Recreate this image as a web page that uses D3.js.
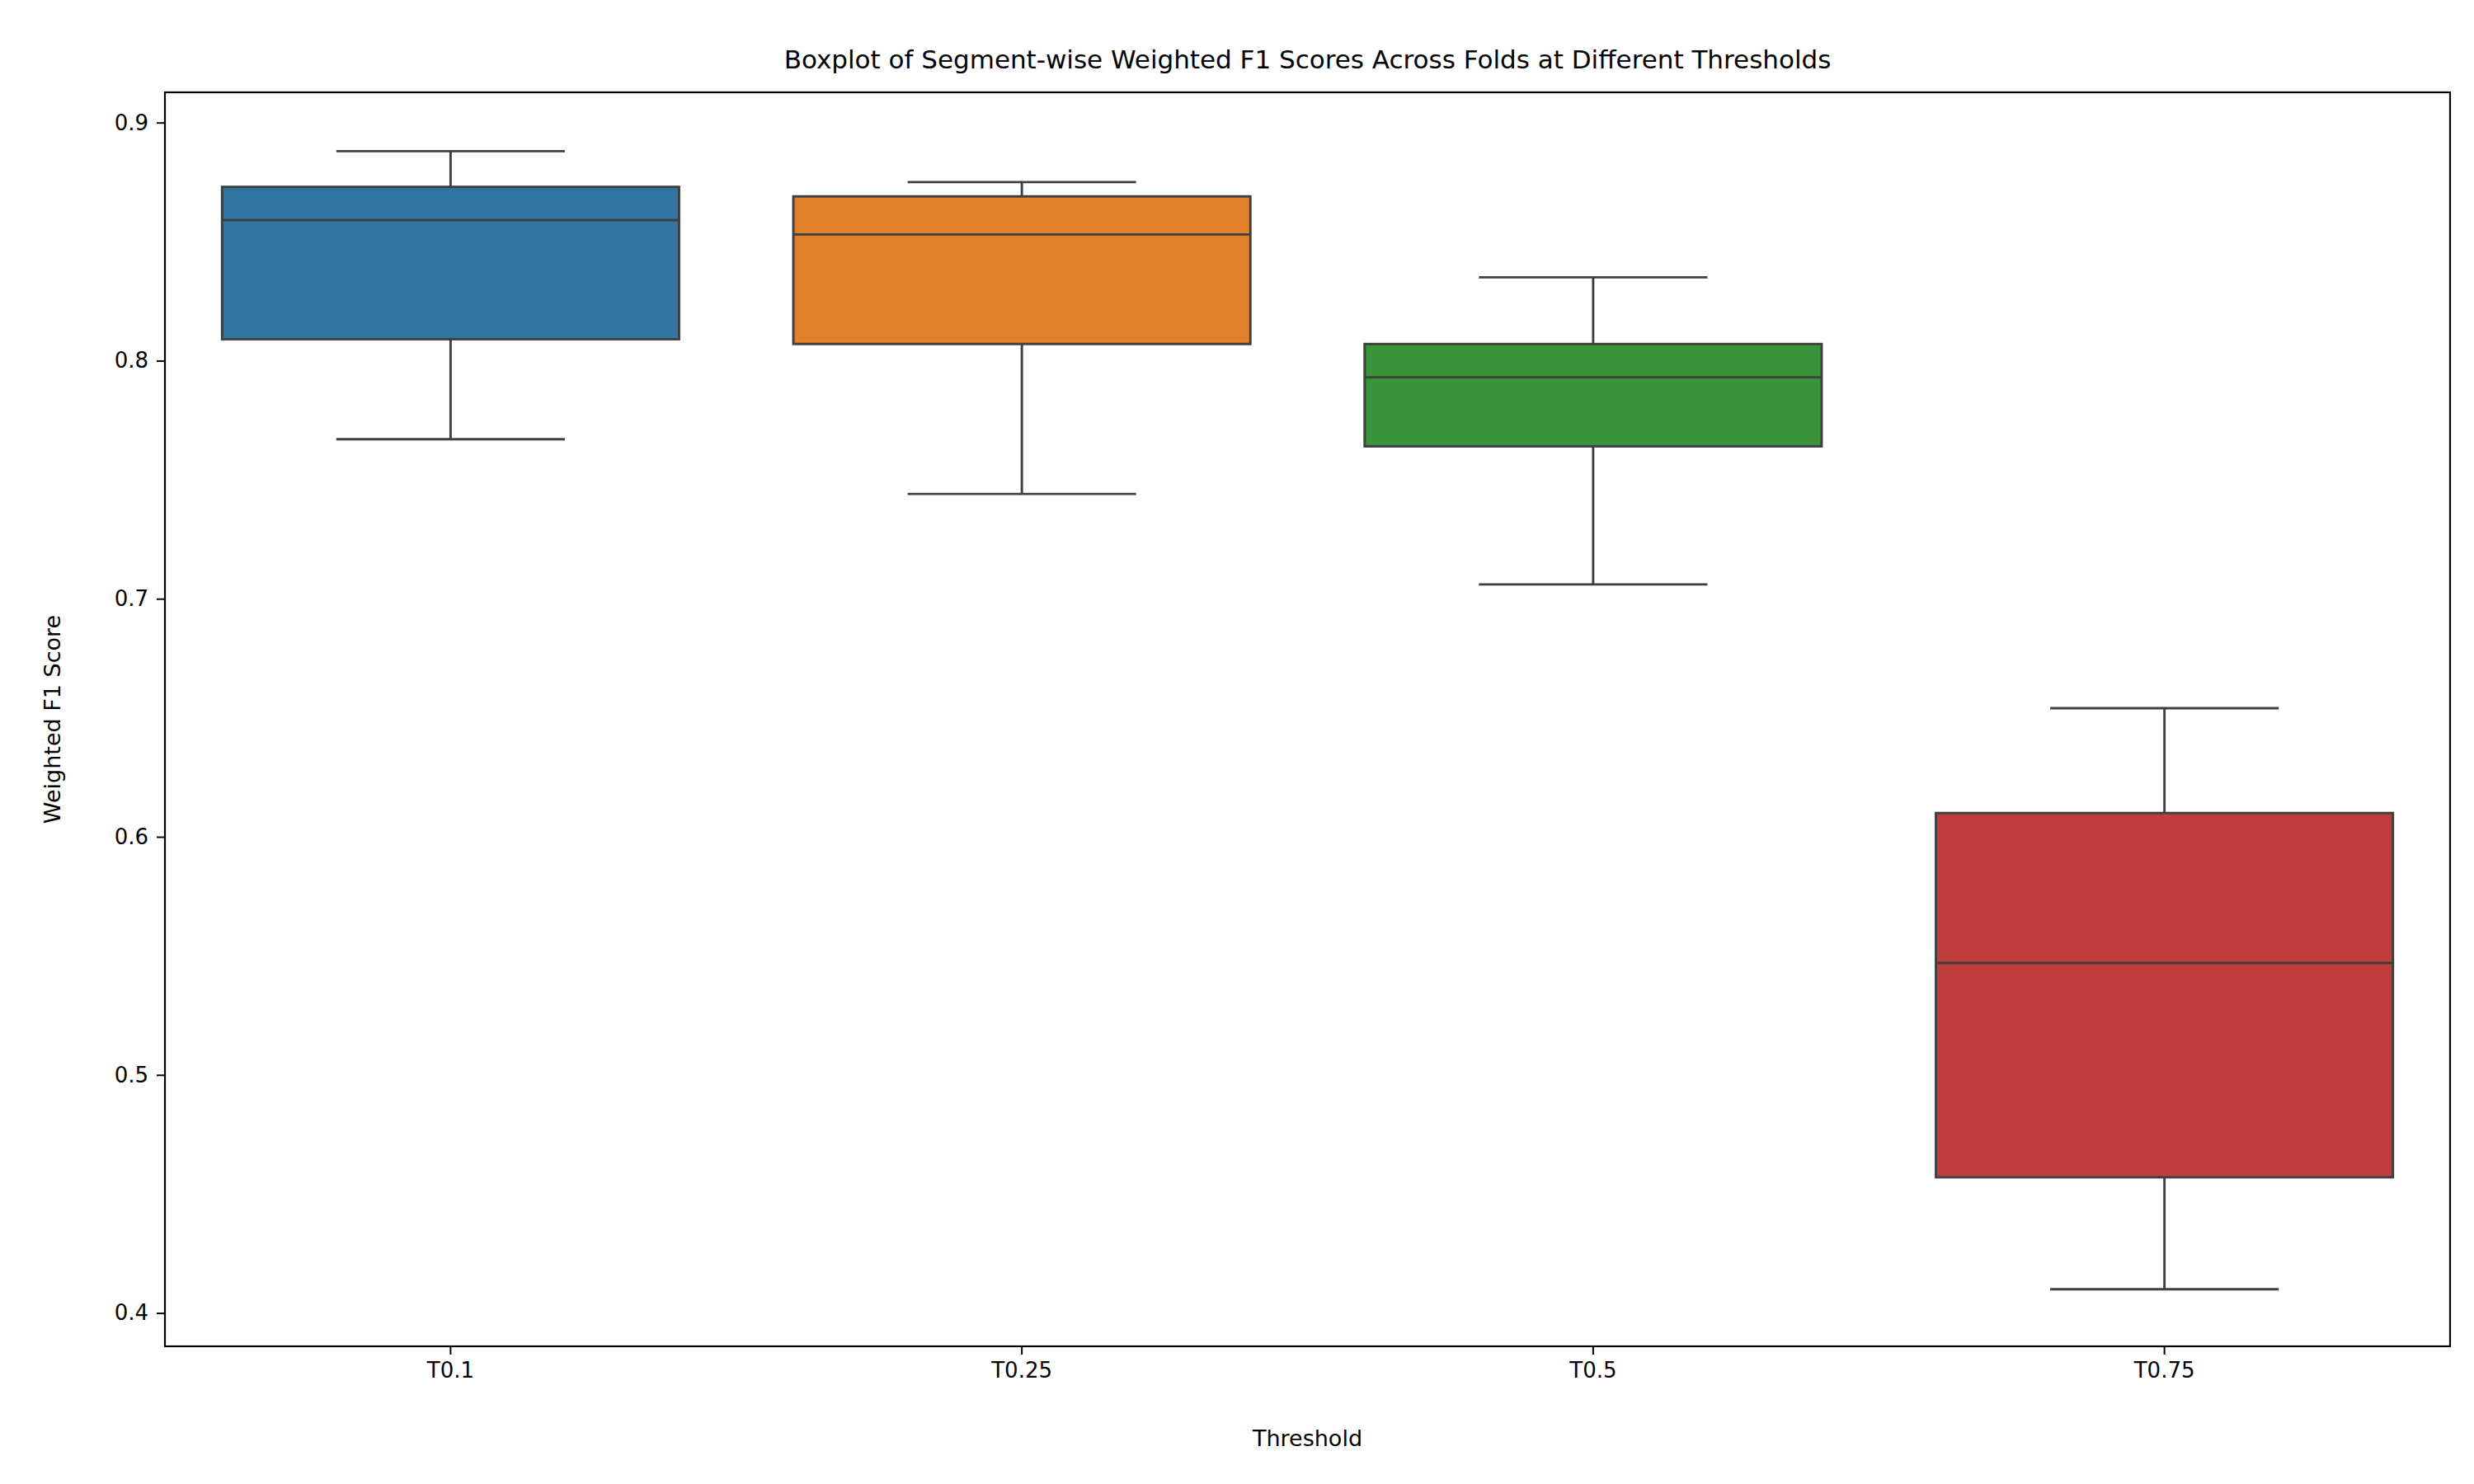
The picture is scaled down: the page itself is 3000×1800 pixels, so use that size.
<!DOCTYPE html>
<html><head><meta charset="utf-8">
<script src="https://d3js.org/d3.v7.min.js"></script>
<style>body{margin:0;background:#fff}text{font-family:"DejaVu Sans",sans-serif;fill:#000}</style>
</head><body>
<svg id="c" width="3000" height="1800"></svg>
<script>
// data
const thresholds = ["T0.1", "T0.25", "T0.5", "T0.75"];
const whiskerLow = [0.767, 0.744, 0.706, 0.410];
const q1 = [0.809, 0.807, 0.764, 0.457];
const median = [0.859, 0.853, 0.793, 0.547];
const q3 = [0.873, 0.869, 0.807, 0.610];
const whiskerHigh = [0.888, 0.875, 0.835, 0.654];
const colors = ["#3274a1", "#e1812c", "#3a923a", "#c03d3e"];
const yTicks = [0.4, 0.5, 0.6, 0.7, 0.8, 0.9];

const m = {l: 200, r: 2971, t: 112, b: 1633};
const svg = d3.select("#c");
const x = d3.scaleBand().domain(thresholds).range([m.l, m.r]).padding(0);
const y = d3.scaleLinear().domain([0.386, 0.9127]).range([m.b, m.t]);
const line = "#3f3f3f";

thresholds.forEach((t, i) => {
  const cx = x(t) + x.bandwidth() / 2, bw = x.bandwidth() * 0.8;
  const g = svg.append("g").attr("stroke", line).attr("stroke-width", 2.9);
  g.append("line").attr("x1", cx).attr("x2", cx).attr("y1", y(whiskerHigh[i])).attr("y2", y(q3[i]));
  g.append("line").attr("x1", cx).attr("x2", cx).attr("y1", y(q1[i])).attr("y2", y(whiskerLow[i]));
  [whiskerHigh[i], whiskerLow[i]].forEach(v =>
    g.append("line").attr("x1", cx - bw / 4).attr("x2", cx + bw / 4).attr("y1", y(v)).attr("y2", y(v)));
  g.append("rect").attr("x", cx - bw / 2).attr("width", bw)
    .attr("y", y(q3[i])).attr("height", y(q1[i]) - y(q3[i])).attr("fill", colors[i]);
  g.append("line").attr("x1", cx - bw / 2).attr("x2", cx + bw / 2).attr("y1", y(median[i])).attr("y2", y(median[i]));
});

svg.append("rect").attr("x", m.l).attr("y", m.t).attr("width", m.r - m.l).attr("height", m.b - m.t)
  .attr("fill", "none").attr("stroke", "#000").attr("stroke-width", 2.2);

const ax = svg.append("g").attr("transform", `translate(0,${m.b})`)
  .call(d3.axisBottom(x).tickSize(10).tickPadding(10));
const ay = svg.append("g").attr("transform", `translate(${m.l},0)`)
  .call(d3.axisLeft(y).tickValues(yTicks).tickFormat(d3.format(".1f")).tickSize(10).tickPadding(10));
[ax, ay].forEach(a => {
  a.select(".domain").remove();
  a.selectAll("line").attr("stroke", "#000").attr("stroke-width", 2);
  a.selectAll("text").style("font-size", "26px").style("font-family", "DejaVu Sans");
});

svg.append("text").attr("x", (m.l + m.r) / 2).attr("y", 83).attr("text-anchor", "middle")
  .style("font-size", "31px").text("Boxplot of Segment-wise Weighted F1 Scores Across Folds at Different Thresholds");
svg.append("text").attr("x", (m.l + m.r) / 2).attr("y", 1754).attr("text-anchor", "middle")
  .style("font-size", "27px").text("Threshold");
svg.append("text").attr("transform", `translate(73,${(m.t + m.b) / 2}) rotate(-90)`).attr("text-anchor", "middle")
  .style("font-size", "27px").text("Weighted F1 Score");
</script>
</body></html>
